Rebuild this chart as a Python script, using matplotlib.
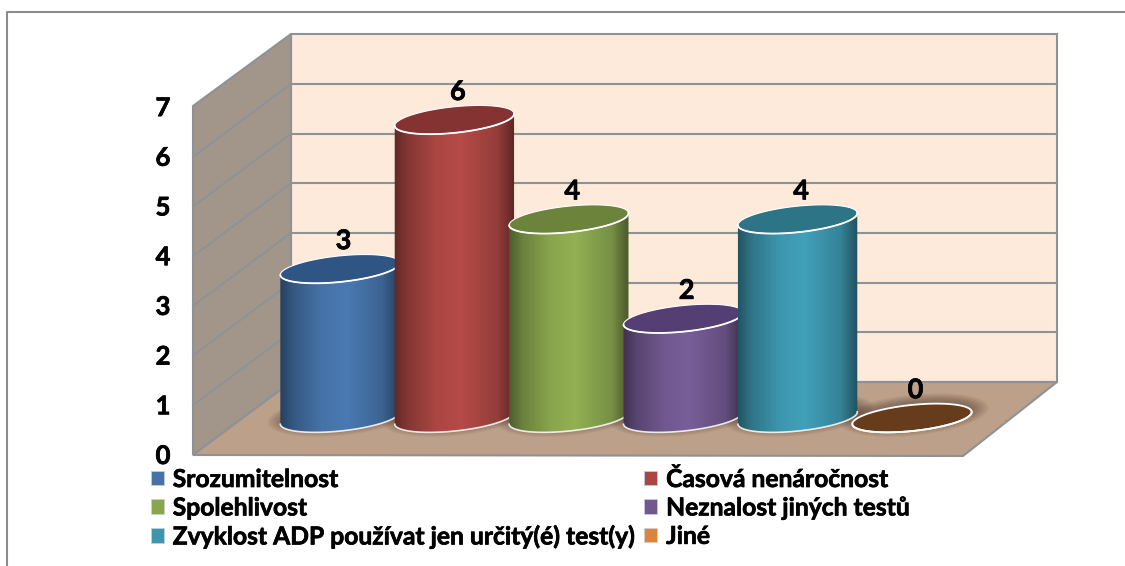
import numpy as np
import matplotlib
matplotlib.use("Agg")
import matplotlib.pyplot as plt
import matplotlib.patheffects as pe
from matplotlib.patches import Patch, Polygon, PathPatch
from matplotlib.path import Path
from matplotlib.colors import to_rgb

# chart data
categories = ["Srozumitelnost", "Časová nenáročnost", "Spolehlivost",
              "Neznalost jiných testů", "Zvyklost ADP používat jen určitý(é) test(y)", "Jiné"]
values = [3, 6, 4, 2, 4, 0]
colors = ["#4572A7", "#AA4643", "#89A54E", "#71588F", "#3D96AE", "#DB843D"]
top_colors = ["#2F5585", "#843232", "#6B833A", "#553E73", "#2D7487", "#663C1C"]
y_ticks = [0, 1, 2, 3, 4, 5, 6, 7]

W, H = 1125, 566
# one category step and one value step, in pixels
SX, SY = 114.4, 49.7
X0, Y0 = 340, 418

plt.rcParams["font.family"] = ["Lato", "DejaVu Sans"]
plt.rcParams["font.weight"] = "bold"
heavy = [pe.withStroke(linewidth=0.5, foreground="black")]

fig = plt.figure(figsize=(W / 100, H / 100), dpi=100, facecolor="white")
ax = fig.add_axes([0, 0, 1, 1])
ax.set_xlim(-X0 / SX, (W - X0) / SX)
ax.set_ylim((Y0 - H) / SY, Y0 / SY)
ax.axis("off")


def px(x, y):
    # pixel position to data position, for the fixed 3d box
    return (x - X0) / SX, (Y0 - y) / SY


def ellipse_pts(cx, v, t, a=60.0, b=13.0, tilt=np.radians(6)):
    ex = a * np.cos(t) * np.cos(tilt) - b * np.sin(t) * np.sin(tilt)
    ey = a * np.cos(t) * np.sin(tilt) + b * np.sin(t) * np.cos(tilt)
    return np.column_stack([cx + ex / SX, v + ey / SY])


# outer frame
ax.plot(*zip(px(7, H), px(7, 12), px(W, 12)), color="#8C8C8C", lw=1.5, zorder=1)

# walls and floor
gray = "#8D9296"
ax.add_patch(Polygon([px(291, 34), px(1057, 34), px(1057, 382), px(291, 382)],
                     fc="#FDEADA", ec=gray, lw=1.5, zorder=2))
ax.add_patch(Polygon([px(193, 106), px(291, 34), px(291, 382), px(193, 455)],
                     fc="#A2958A", ec=gray, lw=1.5, zorder=2))
ax.add_patch(Polygon([px(193, 455), px(291, 382), px(1057, 382), px(963, 456)],
                     fc="#BDA089", ec=gray, lw=1.5, zorder=2))
for k in y_ticks[1:-1]:
    back_y = 382 - k * SY
    ax.plot(*zip(px(291, back_y), px(1057, back_y)), color=gray, lw=1.5, zorder=3)
    ax.plot(*zip(px(193, 455 - k * SY), px(291, back_y)), color=gray, lw=1.2, zorder=3)

# y axis labels
for k in y_ticks:
    x, y = px(163, 456 - k * SY)
    ax.text(x, y, str(k), ha="center", va="center", fontsize=18.5, color="black", zorder=8,
            path_effects=heavy)

# soft shadows on the floor
t_all = np.linspace(0, 2 * np.pi, 100)
for i in range(len(values)):
    for grow in np.linspace(15, 0, 9):
        pts = ellipse_pts(i + 2 / SX, 0.06, t_all, a=60 + grow, b=13 + grow * 0.5)
        ax.add_patch(Polygon(pts, fc="#3A2A1C", ec="none", alpha=0.05, zorder=4))

# cylinders, left to right so that later ones overlap
shade_pos = [0.0, 0.12, 0.35, 0.55, 0.85, 1.0]
shade_val = [0.55, 0.78, 1.0, 1.07, 0.87, 0.52]
u = np.linspace(0, 1, 200)
shade = np.interp(u, shade_pos, shade_val)
front = np.linspace(np.pi, 2 * np.pi, 60)
for i, (v, c, tc) in enumerate(zip(values, colors, top_colors)):
    z = 5 + i * 0.1
    if v > 0:
        bottom = ellipse_pts(i, 0, front)
        top = ellipse_pts(i, v, front[::-1])
        outline = np.vstack([bottom, top])
        body = PathPatch(Path(np.vstack([outline, outline[0]])), fc="none", ec="none", zorder=z)
        ax.add_patch(body)
        grad = np.clip(shade[None, :, None] * np.array(to_rgb(c))[None, None, :], 0, 1)
        x0, x1 = i - 61 / SX, i + 61 / SX
        y0, y1 = -20 / SY, v + 20 / SY
        im = ax.imshow(grad, extent=[x0, x1, y0, y1], aspect="auto", zorder=z, interpolation="bilinear")
        im.set_clip_path(body)
        ax.plot(bottom[:, 0], bottom[:, 1], color="white", lw=1.2, alpha=0.85, zorder=z + 0.01)
    cap = ellipse_pts(i, v, t_all)
    ax.add_patch(Polygon(cap, fc=tc, ec="white", lw=0.8 if v > 0 else 1.3, zorder=z + 0.02))
    edge = ellipse_pts(i, v, front)
    ax.plot(edge[:, 0], edge[:, 1], color="white", lw=1.3, zorder=z + 0.03)
    ax.annotate(str(v), (i, v), xytext=(2.5, 20), textcoords="offset points", ha="center", va="center",
                fontsize=19.5, color="black", zorder=8, path_effects=heavy)
ax.set_xlim(-X0 / SX, (W - X0) / SX)
ax.set_ylim((Y0 - H) / SY, Y0 / SY)

# legend, filled by column so that it reads row by row
handles = [Patch(fc=c, ec="#C8D2DC", lw=0.5, label=n) for c, n in zip(colors, categories)]
order = [0, 2, 4, 1, 3, 5]
leg = fig.legend([handles[i] for i in order], [categories[i] for i in order], ncol=2, frameon=False,
                 loc="upper left", bbox_to_anchor=(151 / W, 1 - 468 / H), borderaxespad=0, borderpad=0,
                 fontsize=17.75, handlelength=0.52, handleheight=0.52, handletextpad=0.36,
                 columnspacing=0.42, labelspacing=0.22)
for t in leg.get_texts():
    t.set_path_effects(heavy)

fig.savefig("out.png", dpi=100)
